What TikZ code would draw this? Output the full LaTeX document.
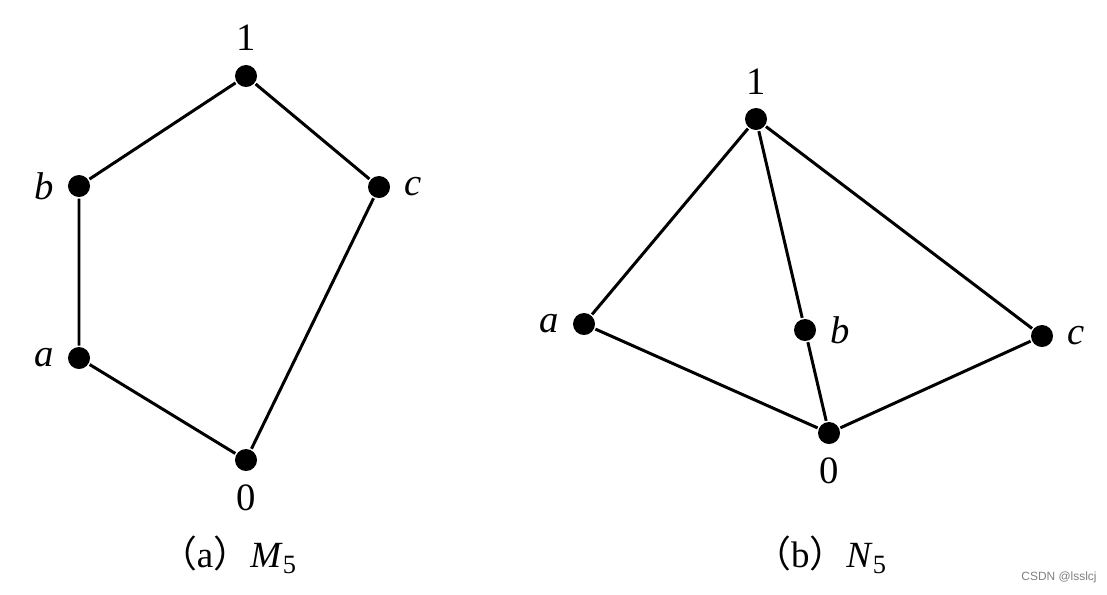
\documentclass[tikz,border=0pt]{standalone}
\usepackage{fontspec}
\setmainfont{Liberation Serif}
\setsansfont{Liberation Sans}
\newfontfamily\cjk{Noto Sans CJK SC}
\usetikzlibrary{positioning}

\newcommand{\sub}[1]{\raisebox{-0.35ex}{\fontsize{7.5}{8}\selectfont #1}}

\begin{document}
\begin{tikzpicture}[x=0.01cm,y=-0.01cm,line width=0.85pt,
  dot/.style={circle,fill,inner sep=0pt,minimum size=0.22cm},
  every label/.style={inner sep=0pt,font=\fontsize{11}{13}\selectfont},
  label distance=0.11cm]
\useasboundingbox (0,0) rectangle (1107,594);
% (a)
\node[dot,label=above:1] (OneA) at (246,76) {};
\node[dot,label=left:\textit{b}] (bA) at (79,186) {};
\node[dot,label=right:\textit{c}] (cA) at (379,187) {};
\node[dot,label=left:\textit{a}] (aA) at (79,358) {};
\node[dot,label=below:0] (ZeroA) at (246,460) {};
\draw (ZeroA) -- (aA) -- (bA) -- (OneA) -- (cA) -- (ZeroA);
% (b)
\node[dot,label=above:1] (OneB) at (756,119) {};
\node[dot,label=left:\textit{a}] (aB) at (584,324) {};
\node[dot,label=right:\textit{b}] (bB) at (805,330) {};
\node[dot,label=right:\textit{c}] (cB) at (1042,336) {};
\node[dot,label=below:0] (ZeroB) at (829,433) {};
\draw (ZeroB) -- (aB) -- (OneB) -- (cB) -- (ZeroB);
\draw (OneB) -- (bB) -- (ZeroB);
% captions
\begin{scope}[every node/.style={font=\fontsize{10.5}{12}\selectfont}]
\node (CapA) at (228,555) {{\cjk （}a{\cjk ）}\textit{M}\sub{5}};
\node (CapB) at (820,555) {{\cjk （}b{\cjk ）}\textit{N}\sub{5}};
\end{scope}
\node[font=\sffamily\fontsize{3.4}{4}\selectfont,text=gray] (Mark) at (1059,577) {CSDN @lsslcj};
\end{tikzpicture}
\end{document}
